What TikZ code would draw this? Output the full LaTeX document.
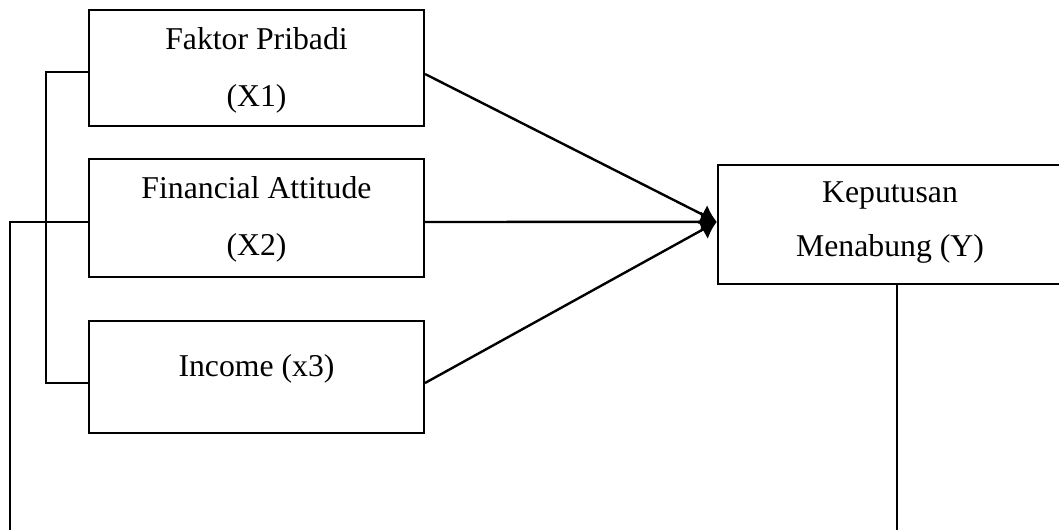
\documentclass[tikz,border=0pt]{standalone}
\usepackage{fontspec}
\setmainfont{Liberation Serif}
\usetikzlibrary{arrows.meta,calc}
\begin{document}
\begin{tikzpicture}[x=0.75pt,y=-0.75pt,
  ln/.style={line width=1.8pt},
  box/.style={draw,line width=1.8pt,inner sep=0pt,minimum width=251pt},
  lbl/.style={inner sep=0pt,anchor=base,font=\fontsize{23.8}{28}\selectfont},
  arr/.style={line width=1.8pt,-{Latex[length=12pt,width=16pt]}}]
\useasboundingbox (0,0) rectangle (1059,530);
\clip (0,0) rectangle (1059,530);
\node[box,minimum height=87pt] (b1) at (256.5,68) {};
\node[box,minimum height=88.5pt] (b2) at (256.5,218) {};
\node[box,minimum height=84pt] (b3) at (256.5,377) {};
\node[box,minimum width=267.75pt,minimum height=89.25pt] (by) at (896.5,224.5) {};
\node[lbl] (t1a) at (256.5,50) {Faktor Pribadi};
\node[lbl] (t1b) at (256.5,107) {(X1)};
\node[lbl] (t2a) at (256.5,199) {Financial Attitude};
\node[lbl] (t2b) at (256.5,256) {(X2)};
\node[lbl] (t3) at (256.5,377) {Income (x3)};
\node[lbl] (tya) at (890,203) {Keputusan};
\node[lbl] (tyb) at (890,257) {Menabung (Y)};
\coordinate (k1) at (46,72);
\coordinate (k3) at (46,383);
\coordinate (o1) at (10,222);
\coordinate (o2) at (10,530);
\coordinate (y2) at (897,530);
\coordinate (tip) at ([yshift=2pt]by.west);
\draw[ln] (k1 -| b1.west) -- (k1) -- (k3) -- (k3 -| b3.west);
\draw[ln] (o1 -| b2.west) -- (o1) -- (o2);
\draw[ln] (y2 |- by.south) -- (y2);
\draw[arr] ([yshift=-4.5pt]b1.east) -- (tip);
\draw[arr] ([yshift=-3pt]b2.east) -- (tip);
\draw[arr] ([yshift=-4.5pt]b3.east) -- (tip);
\end{tikzpicture}
\end{document}
